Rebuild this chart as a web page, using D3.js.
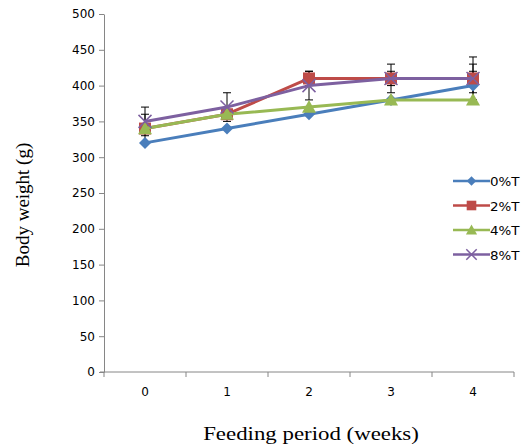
<!DOCTYPE html>
<html>
<head>
<meta charset="utf-8">
<script src="https://cdn.jsdelivr.net/npm/d3@7/dist/d3.min.js"></script>
<style>
  html, body { margin: 0; padding: 0; background: #fff; }
  svg { display: block; }
</style>
</head>
<body>
<svg id="chart" width="522" height="446"></svg>
<script>
// Body weight over the feeding period, per treatment level
const weeks = ["0", "1", "2", "3", "4"];
const seriesNames = ["0%T", "2%T", "4%T", "8%T"];
const weight0 = [320, 340, 360, 380, 400];
const weight2 = [340, 360, 410, 410, 410];
const weight4 = [340, 360, 370, 380, 380];
const weight8 = [350, 370, 400, 410, 410];
// error half-widths (g)
const err0 = [0, 0, 0, 0, 20];
const err2 = [20, 0, 10, 10, 20];
const err4 = [0, 0, 0, 0, 0];
const err8 = [20, 20, 20, 20, 30];
const yTicks = [0, 50, 100, 150, 200, 250, 300, 350, 400, 450, 500];

const colors = ["#4A7EBB", "#BE4B48", "#98B954", "#7D60A0"];
const markers = ["diamond", "square", "triangle", "cross"];
const series = seriesNames.map((name, i) => ({
  name,
  values: [weight0, weight2, weight4, weight8][i],
  err: [err0, err2, err4, err8][i],
  color: colors[i],
  marker: markers[i]
}));

const svg = d3.select("#chart");
const m = { left: 104, right: 514, top: 14, bottom: 372 };

const x = d3.scaleBand().domain(weeks).range([m.left, m.right]);
const y = d3.scaleLinear().domain([0, 500]).range([m.bottom, m.top]);
const cx = d => x(d) + x.bandwidth() / 2;

const axisColor = "#868686";
const tickFont = "'DejaVu Sans', sans-serif";

// y axis
const yAxis = svg.append("g")
  .attr("transform", `translate(${m.left},0)`)
  .call(d3.axisLeft(y).tickValues(yTicks).tickSize(5).tickPadding(4).tickSizeOuter(0));
yAxis.select(".domain").attr("stroke", axisColor);
yAxis.selectAll(".tick line").attr("stroke", axisColor);
yAxis.selectAll(".tick text")
  .attr("font-family", tickFont).attr("font-size", 12).attr("fill", "#000");

// x axis: ticks on category boundaries, labels centred in each band
const xAxisG = svg.append("g").attr("transform", `translate(0,${m.bottom})`);
xAxisG.append("line")
  .attr("x1", m.left - 4).attr("x2", m.right)
  .attr("stroke", axisColor);
const boundaries = weeks.map(w => x(w)).concat([x(weeks[weeks.length - 1]) + x.bandwidth()]);
xAxisG.selectAll("line.bt").data(boundaries).enter().append("line")
  .attr("class", "bt")
  .attr("x1", d => d).attr("x2", d => d).attr("y1", 0).attr("y2", 5)
  .attr("stroke", axisColor);
xAxisG.selectAll("text").data(weeks).enter().append("text")
  .attr("x", d => cx(d)).attr("y", 24)
  .attr("text-anchor", "middle")
  .attr("font-family", tickFont).attr("font-size", 12)
  .text(d => d);

// axis titles (serif, slightly widened)
svg.append("text")
  .attr("transform", "translate(311,440) scale(1.27,1)")
  .attr("text-anchor", "middle")
  .attr("font-family", "'Liberation Serif', serif").attr("font-size", 18)
  .text("Feeding period (weeks)");
svg.append("text")
  .attr("transform", "translate(29,205) rotate(-90)")
  .attr("text-anchor", "middle")
  .attr("font-family", "'Liberation Serif', serif").attr("font-size", 19)
  .text("Body weight (g)");

// error bars
const capW = 4;
const eb = svg.append("g").attr("stroke", "#000").attr("stroke-width", 1);
series.forEach(s => {
  s.values.forEach((v, i) => {
    const e = s.err[i];
    if (!e) return;
    const px = cx(weeks[i]);
    eb.append("line").attr("x1", px).attr("x2", px)
      .attr("y1", y(v - e)).attr("y2", y(v + e));
    [v - e, v + e].forEach(t => {
      eb.append("line").attr("x1", px - capW).attr("x2", px + capW)
        .attr("y1", y(t)).attr("y2", y(t));
    });
  });
});

// marker drawing
function drawMarker(g, type, px, py, color, r0) {
  const k = r0 || 1;
  if (type === "diamond") {
    const r = 6 * k;
    g.append("path")
      .attr("d", `M${px},${py - r}L${px + r},${py}L${px},${py + r}L${px - r},${py}Z`)
      .attr("fill", color);
  } else if (type === "square") {
    const r = 6 * k;
    g.append("rect")
      .attr("x", px - r).attr("y", py - r).attr("width", 2 * r).attr("height", 2 * r)
      .attr("fill", color);
  } else if (type === "triangle") {
    const r = 7 * k;
    g.append("path")
      .attr("d", `M${px},${py - r}L${px + r},${py + r * 0.8}L${px - r},${py + r * 0.8}Z`)
      .attr("fill", color);
  } else {
    const r = 6.5 * k;
    g.append("path")
      .attr("d", `M${px - r},${py - r}L${px + r},${py + r}M${px - r},${py + r}L${px + r},${py - r}`)
      .attr("stroke", color).attr("stroke-width", 1.5).attr("fill", "none");
  }
}

// lines and markers
const line = d3.line().x((d, i) => cx(weeks[i])).y(d => y(d));
series.forEach(s => {
  const g = svg.append("g");
  g.append("path")
    .attr("d", line(s.values))
    .attr("fill", "none").attr("stroke", s.color).attr("stroke-width", 3)
    .attr("stroke-linejoin", "round");
  s.values.forEach((v, i) => drawMarker(g, s.marker, cx(weeks[i]), y(v), s.color));
});

// legend
const lg = svg.append("g");
series.forEach((s, i) => {
  const ly = 181 + i * 24.5;
  lg.append("line").attr("x1", 453).attr("x2", 490).attr("y1", ly).attr("y2", ly)
    .attr("stroke", s.color).attr("stroke-width", 2.5);
  drawMarker(lg, s.marker, 471.5, ly, s.color, 0.8);
  lg.append("text")
    .attr("transform", `translate(490,${ly + 5}) scale(1.12,1)`)
    .attr("font-family", tickFont).attr("font-size", 12)
    .text(s.name);
});
</script>
</body>
</html>
